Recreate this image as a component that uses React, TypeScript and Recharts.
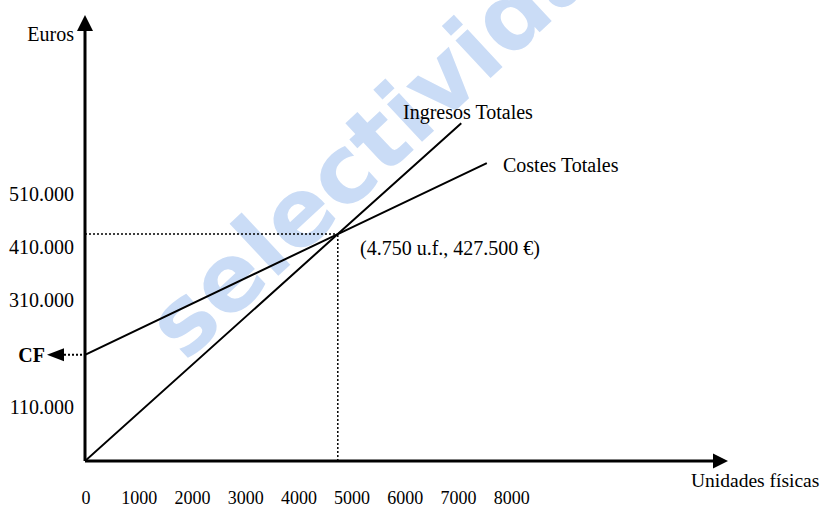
import React from 'react';
import {
  LineChart,
  Line,
  XAxis,
  YAxis,
  ReferenceLine,
  ReferenceDot,
} from 'recharts';

// valores
const xTicks = [0, 1000, 2000, 3000, 4000, 5000, 6000, 7000, 8000];
const yTicks = [110000, 310000, 410000, 510000];
const costeFijo = 200000;
const ingresosUnidades = [0, 4750, 7070];
const ingresosEuros = [0, 427500, 636300];
const costesUnidades = [0, 4750, 7550];
const costesEuros = [200000, 427500, 561000];
const umbral = { unidades: 4750, euros: 427500 };

const X_MAX = 11800;
const Y_MAX = 810000;

const ingresosData = ingresosUnidades.map((u, i) => ({ x: u, y: ingresosEuros[i] }));
const costesData = costesUnidades.map((u, i) => ({ x: u, y: costesEuros[i] }));

const serif = '"Liberation Serif", "Times New Roman", serif';

const fmt = (v: number) => String(v).replace(/\B(?=(\d{3})+(?!\d))/g, '.');

const YTick = ({ x, y, payload }: any) => {
  if (payload.value === costeFijo) {
    return (
      <g>
        <text x={x - 32} y={y} dy={7} textAnchor="end" fontFamily={serif} fontSize={20} fontWeight="bold" fill="#000">
          CF
        </text>
        <polygon points={`${x - 30},${y} ${x - 13},${y - 6.5} ${x - 13},${y + 6.5}`} fill="#000" />
        <line x1={x - 13} y1={y} x2={x + 7} y2={y} stroke="#000" strokeWidth={2} strokeDasharray="2 2" />
      </g>
    );
  }
  return (
    <text x={x - 3} y={y} dy={11} textAnchor="end" fontFamily={serif} fontSize={20} fill="#000">
      {fmt(payload.value)}
    </text>
  );
};

const XTick = ({ x, y, payload }: any) => (
  <text x={x + 1} y={y} dy={35} textAnchor="middle" fontFamily={serif} fontSize={18} fill="#000">
    {payload.value}
  </text>
);

const ArrowRight = ({ cx, cy }: any) => (
  <polygon points={`${cx + 15},${cy} ${cx},${cy - 7.5} ${cx},${cy + 7.5}`} fill="#000" />
);

const ArrowUp = ({ cx, cy }: any) => (
  <polygon points={`${cx},${cy - 16} ${cx - 8},${cy} ${cx + 8},${cy}`} fill="#000" />
);

export default function App() {
  return (
    <div style={{ position: 'absolute', left: 0, top: 0, width: 821, height: 507, background: '#fff' }}>
      <svg width={821} height={507} style={{ position: 'absolute', left: 0, top: 0 }}>
        <text
          x={185}
          y={363}
          transform="rotate(-43 185 363)"
          fontFamily='"DejaVu Sans", Arial, sans-serif'
          fontWeight="bold"
          fontSize={94}
          fill="#cadcf6"
        >
          selectividad
        </text>
      </svg>
      <div style={{ position: 'absolute', left: 0, top: 0 }}>
        <LineChart width={821} height={507} margin={{ top: 31, right: 108, left: 0, bottom: 0 }}>
          <XAxis
            type="number"
            dataKey="x"
            domain={[0, X_MAX]}
            ticks={xTicks}
            height={46}
            tickLine={false}
            axisLine={{ stroke: '#000', strokeWidth: 3 }}
            tick={<XTick />}
            allowDataOverflow
          />
          <YAxis
            type="number"
            dataKey="y"
            domain={[0, Y_MAX]}
            ticks={[yTicks[0], costeFijo, ...yTicks.slice(1)]}
            width={85}
            tickLine={false}
            axisLine={{ stroke: '#000', strokeWidth: 3 }}
            tick={<YTick />}
            allowDataOverflow
          />
          <ReferenceLine
            segment={[{ x: 0, y: umbral.euros }, { x: umbral.unidades, y: umbral.euros }]}
            stroke="#000"
            strokeWidth={1.5}
            strokeDasharray="2 2"
          />
          <ReferenceLine
            segment={[{ x: umbral.unidades, y: 0 }, { x: umbral.unidades, y: umbral.euros }]}
            stroke="#000"
            strokeWidth={1.5}
            strokeDasharray="2 2"
          />
          <Line
            data={ingresosData}
            dataKey="y"
            type="linear"
            stroke="#000"
            strokeWidth={2}
            dot={false}
            isAnimationActive={false}
          />
          <Line
            data={costesData}
            dataKey="y"
            type="linear"
            stroke="#000"
            strokeWidth={2}
            dot={false}
            isAnimationActive={false}
          />
          <ReferenceDot x={X_MAX} y={0} r={8} ifOverflow="visible" shape={<ArrowRight />} />
          <ReferenceDot x={0} y={Y_MAX} r={8} ifOverflow="visible" shape={<ArrowUp />} />
        </LineChart>
      </div>
      <svg width={821} height={507} style={{ position: 'absolute', left: 0, top: 0, pointerEvents: 'none' }}>
        <g fontFamily={serif} fontSize={20} fill="#000">
          <text x={74} y={41} textAnchor="end">Euros</text>
          <text x={403} y={119}>Ingresos Totales</text>
          <text x={503} y={172}>Costes Totales</text>
          <text x={360} y={255}>(4.750 u.f., 427.500 €)</text>
          <text x={691} y={487} fontSize={19.5}>Unidades físicas</text>
        </g>
      </svg>
    </div>
  );
}
